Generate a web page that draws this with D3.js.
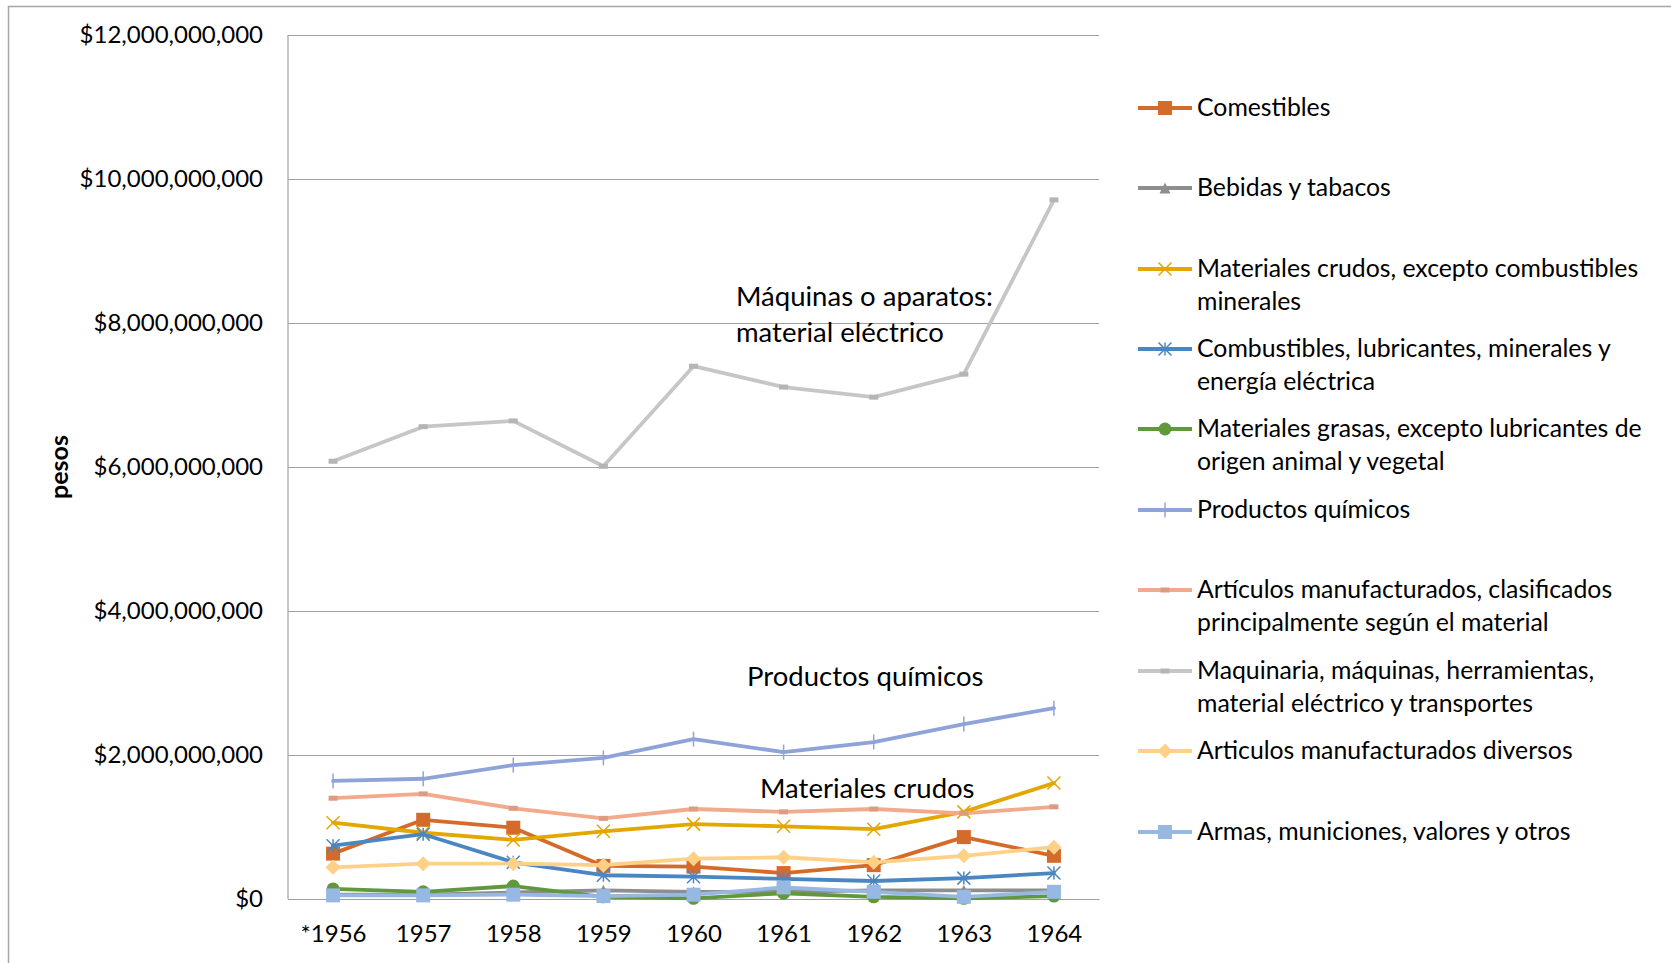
<!DOCTYPE html>
<html><head><meta charset="utf-8">
<script src="https://cdn.jsdelivr.net/npm/d3@7/dist/d3.min.js"></script>
<style>
html,body{margin:0;padding:0;background:#fff;}
svg text{font-family:Lato,"Open Sans",sans-serif;fill:#000;}
</style></head>
<body>
<svg id="chart" width="1671" height="963"></svg>
<script>
// ---- data ----
const years = ["*1956","1957","1958","1959","1960","1961","1962","1963","1964"];
const yTicks = [0, 2e9, 4e9, 6e9, 8e9, 10e9, 12e9];

const comestibles      = [0.63e9, 1.10e9, 0.99e9, 0.46e9, 0.45e9, 0.36e9, 0.47e9, 0.86e9, 0.60e9];
const bebidas          = [0.06e9, 0.06e9, 0.09e9, 0.12e9, 0.10e9, 0.10e9, 0.12e9, 0.12e9, 0.12e9];
const matCrudos        = [1.06e9, 0.92e9, 0.82e9, 0.94e9, 1.04e9, 1.01e9, 0.97e9, 1.21e9, 1.61e9];
const combustibles     = [0.74e9, 0.90e9, 0.51e9, 0.33e9, 0.31e9, 0.28e9, 0.25e9, 0.29e9, 0.36e9];
const grasas           = [0.14e9, 0.10e9, 0.18e9, 0.03e9, 0.01e9, 0.08e9, 0.03e9, 0.01e9, 0.04e9];
const quimicos         = [1.64e9, 1.67e9, 1.86e9, 1.96e9, 2.22e9, 2.04e9, 2.18e9, 2.43e9, 2.65e9];
const manufClasif      = [1.40e9, 1.46e9, 1.26e9, 1.12e9, 1.25e9, 1.21e9, 1.25e9, 1.19e9, 1.28e9];
const maquinaria       = [6.08e9, 6.56e9, 6.64e9, 6.01e9, 7.40e9, 7.11e9, 6.97e9, 7.29e9, 9.71e9];
const manufDiversos    = [0.44e9, 0.49e9, 0.49e9, 0.47e9, 0.56e9, 0.58e9, 0.51e9, 0.60e9, 0.72e9];
const armas            = [0.05e9, 0.05e9, 0.06e9, 0.04e9, 0.06e9, 0.16e9, 0.10e9, 0.03e9, 0.10e9];

const seriesNames = [
  ["Comestibles"],
  ["Bebidas y tabacos"],
  ["Materiales crudos, excepto combustibles", "minerales"],
  ["Combustibles, lubricantes, minerales y", "energía eléctrica"],
  ["Materiales grasas, excepto lubricantes de", "origen animal y vegetal"],
  ["Productos químicos"],
  ["Artículos manufacturados, clasificados", "principalmente según el material"],
  ["Maquinaria, máquinas, herramientas,", "material eléctrico y transportes"],
  ["Articulos manufacturados diversos"],
  ["Armas, municiones, valores y otros"]
];
const seriesValues = [comestibles, bebidas, matCrudos, combustibles, grasas, quimicos, manufClasif, maquinaria, manufDiversos, armas];
const annotations = [
  ["Máquinas o aparatos:", "material eléctrico"],
  ["Productos químicos"],
  ["Materiales crudos"]
];

// ---- styles ----
const colors  = ["#D56B2A","#8E8E8E","#E2A700","#4A86C1","#60993D","#8EA3D8","#F2A98C","#C6C6C6","#FFD187","#97B8E2"];
const markers = ["square","triangle","x","star","circle","plus","dash","dash","diamond","square"];
const legendY = [108, 188, 269, 349, 429, 510, 590, 671, 751, 832];
const annotPos = [[736, 299], [747, 679], [760, 791]];

const svg = d3.select("#chart");
const W = 1671, H = 963;
const m = {left: 288, right: 1099, top: 35, bottom: 899};

// outer frame
svg.append("rect").attr("x", 8.5).attr("y", 6.5).attr("width", W + 20).attr("height", H + 20)
  .attr("fill", "none").attr("stroke", "#A6A6A6").attr("stroke-width", 1.5);

const x = d3.scalePoint().domain(years).range([m.left, m.right]).padding(0.5);
const y = d3.scaleLinear().domain([0, 12e9]).range([m.bottom, m.top]);

// gridlines + y labels
const yAxis = d3.axisLeft(y).tickValues(yTicks).tickSize(-(m.right - m.left)).tickPadding(25)
  .tickFormat(d => "$" + d3.format(",")(d));
const gy = svg.append("g").attr("transform", `translate(${m.left},0)`).call(yAxis);
gy.select(".domain").remove();
gy.selectAll(".tick line").attr("stroke", "#A0A0A0").attr("stroke-width", 1.2);
gy.selectAll(".tick text").attr("font-size", 24).attr("font-family", "Lato");

// left axis line
svg.append("line").attr("x1", m.left).attr("x2", m.left).attr("y1", m.top).attr("y2", m.bottom)
  .attr("stroke", "#A0A0A0").attr("stroke-width", 1.2);

// x axis
const xAxis = d3.axisBottom(x).tickSize(0).tickPadding(26);
const gx = svg.append("g").attr("transform", `translate(0,${m.bottom})`).call(xAxis);
gx.select(".domain").attr("stroke", "#A0A0A0").attr("stroke-width", 1.2);
gx.selectAll(".tick text").attr("font-size", 24).attr("font-family", "Lato");

// y title
svg.append("text").attr("transform", `translate(68,${(m.top + m.bottom) / 2}) rotate(-90)`)
  .attr("text-anchor", "middle").attr("font-size", 25).attr("font-weight", "bold").text("pesos");

// marker drawer
function drawMarker(g, type, color, size) {
  const s = size;
  switch (type) {
    case "square":
      g.append("rect").attr("x", -s/2).attr("y", -s/2).attr("width", s).attr("height", s).attr("fill", color); break;
    case "circle":
      g.append("circle").attr("r", s/2).attr("fill", color); break;
    case "diamond":
      g.append("path").attr("d", `M0,${-s/2-1}L${s/2+1},0L0,${s/2+1}L${-s/2-1},0Z`).attr("fill", color); break;
    case "triangle":
      g.append("path").attr("d", `M0,${-s/2}L${s/2},${s/2}L${-s/2},${s/2}Z`).attr("fill", color); break;
    case "x":
      g.append("path").attr("d", `M${-s/2},${-s/2}L${s/2},${s/2}M${s/2},${-s/2}L${-s/2},${s/2}`)
        .attr("stroke", color).attr("stroke-width", 1.5).attr("fill", "none"); break;
    case "star":
      g.append("path").attr("d", `M${-s/2},${-s/2}L${s/2},${s/2}M${s/2},${-s/2}L${-s/2},${s/2}M0,${-s/2}L0,${s/2}`)
        .attr("stroke", color).attr("stroke-width", 1.5).attr("fill", "none"); break;
    case "plus":
      g.append("path").attr("d", `M0,${-s/2}L0,${s/2}`)
        .attr("stroke", color).attr("stroke-width", 1.5).attr("fill", "none"); break;
    case "dash":
      g.append("rect").attr("x", -s/2).attr("y", -2.5).attr("width", s).attr("height", 5).attr("fill", d3.color(color).darker(0.25)); break;
  }
}
const markerSize = {square: 14, circle: 13, diamond: 13, triangle: 11, x: 13, star: 13, plus: 15, dash: 9};

const line = d3.line().x((d, i) => x(years[i])).y(d => y(d));
seriesValues.forEach((vals, k) => {
  const g = svg.append("g");
  g.append("path").datum(vals).attr("d", line).attr("fill", "none")
    .attr("stroke", colors[k]).attr("stroke-width", 3.8).attr("stroke-linejoin", "round").attr("stroke-linecap", "round");
  vals.forEach((v, i) => {
    const mg = g.append("g").attr("transform", `translate(${x(years[i])},${y(v)})`);
    drawMarker(mg, markers[k], colors[k], markerSize[markers[k]]);
  });
});

// annotations
annotations.forEach((lines, k) => {
  const t = svg.append("text").attr("x", annotPos[k][0]).attr("y", annotPos[k][1])
    .attr("font-size", 27.5).attr("dominant-baseline", "middle");
  lines.forEach((ln, j) => t.append("tspan").attr("x", annotPos[k][0]).attr("dy", j === 0 ? 0 : 36).text(ln));
});

// legend
seriesNames.forEach((lines, k) => {
  const ly = legendY[k];
  const g = svg.append("g");
  g.append("line").attr("x1", 1138).attr("x2", 1192).attr("y1", ly).attr("y2", ly)
    .attr("stroke", colors[k]).attr("stroke-width", 3.8);
  const mg = g.append("g").attr("transform", `translate(1165,${ly})`);
  drawMarker(mg, markers[k], colors[k], markerSize[markers[k]]);
  const t = g.append("text").attr("x", 1197).attr("y", ly + 2).attr("font-size", 24.8).attr("dominant-baseline", "middle");
  lines.forEach((ln, j) => t.append("tspan").attr("x", 1197).attr("dy", j === 0 ? 0 : 33).text(ln));
});
</script>
</body></html>
